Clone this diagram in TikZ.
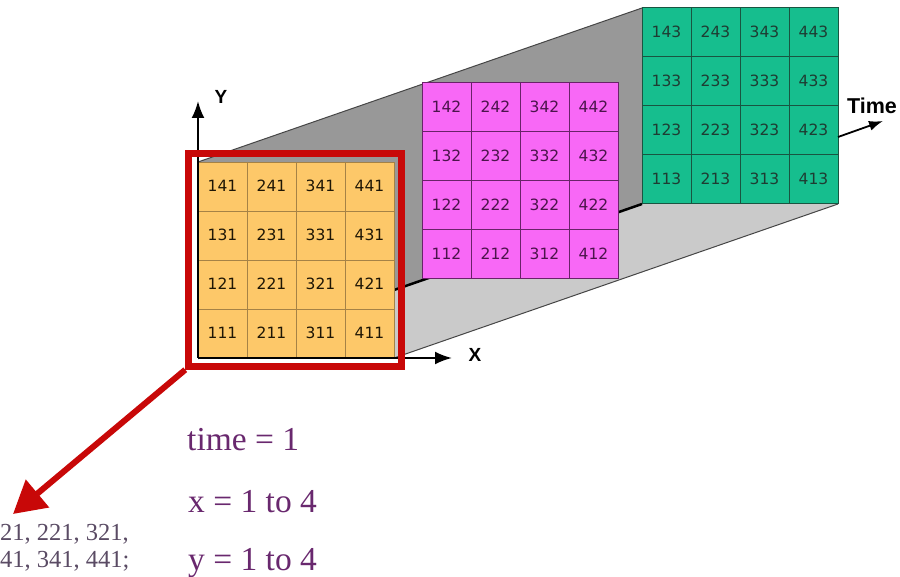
\documentclass[tikz,border=0pt]{standalone}
\usepackage{fontspec}
\setmainfont{Liberation Serif}
\newfontfamily\numfont{DejaVu Sans}
\newfontfamily\axfont{Liberation Sans}
\usetikzlibrary{arrows.meta}
\definecolor{cellorange}{RGB}{253,200,105}
\definecolor{oborder}{RGB}{165,130,70}
\definecolor{otext}{RGB}{30,22,5}
\definecolor{cellmag}{RGB}{248,104,246}
\definecolor{mborder}{RGB}{105,35,105}
\definecolor{mtext}{RGB}{75,20,75}
\definecolor{cellgreen}{RGB}{22,190,142}
\definecolor{gborder}{RGB}{25,85,65}
\definecolor{gtext}{RGB}{30,60,50}
\definecolor{wallgray}{RGB}{152,152,152}
\definecolor{floorgray}{RGB}{202,202,202}
\definecolor{edgegray}{RGB}{70,70,70}
\definecolor{framered}{RGB}{200,8,8}
\definecolor{labpurple}{RGB}{105,40,110}
\definecolor{listgray}{RGB}{90,75,100}
\tikzset{
  cellbase/.style={minimum size=49pt, inner sep=0pt, line width=1pt,
    text height=11pt, text depth=0pt,
    font=\numfont\fontsize{15.5}{15.5}\selectfont},
  ocell/.style={cellbase, draw=oborder, line width=0.7pt, fill=cellorange, text=otext},
  mcell/.style={cellbase, draw=mborder, fill=cellmag, text=mtext},
  gcell/.style={cellbase, draw=gborder, fill=cellgreen, text=gtext},
  axisline/.style={line width=2.2pt, -{Latex[length=17pt,width=13pt]}},
  axlabel/.style={font=\axfont\bfseries\fontsize{19}{19}\selectfont, inner sep=0pt},
  infotext/.style={font=\fontsize{33.5}{33.5}\selectfont, text=labpurple, anchor=base west, inner sep=0pt},
  listtext/.style={font=\fontsize{24.5}{24.5}\selectfont, text=listgray, anchor=base west, inner sep=0pt}
}
\newcommand\cellgrid[5]{%
  \foreach \i in {1,...,4}{\foreach \j in {1,...,4}{
    \node[#5] (#1\i\j) at ({#2+(\i-0.5)*49},{#3+(4-\j+0.5)*49}) {\i\j#4};
  }}}
\begin{document}
\begin{tikzpicture}[x=1pt,y=-1pt]
\useasboundingbox (0,0) rectangle (900,577);
% corners of the prism
\coordinate (oTL) at (198,162);
\coordinate (oBL) at (198,358);
\coordinate (oBR) at (394,358);
\coordinate (gTL) at (642,8);
\coordinate (gBL) at (642,204);
\coordinate (gBR) at (838,204);
% wall and floor
\fill[wallgray] (oTL) -- (gTL) -- (gBL) -- (oBL) -- cycle;
\fill[floorgray] (oBL) -- (oBR) -- (gBR) -- (gBL) -- cycle;
\draw[edgegray, line width=1pt] (oTL) -- (gTL);
\draw[edgegray, line width=1pt] (oBR) -- (gBR);
\draw[black, line width=2.5pt] (oBL) -- (gBL);
% grids
\cellgrid{g}{642}{8}{3}{gcell}
\cellgrid{m}{422}{83}{2}{mcell}
\cellgrid{o}{198}{162}{1}{ocell}
% axes
\coordinate (ytip) at (198,101);
\coordinate (xtip) at (452,358);
\draw[axisline] (oBL) -- (ytip);
\draw[axisline] (oBL) -- (xtip);
\node[axlabel] (ylab) at (221,97) {Y};
\node[axlabel] (xlab) at (475,355) {X};
% time arrow
\coordinate (tstart) at (838,137);
\coordinate (ttip) at (883,121);
\draw[line width=1.8pt, -{Latex[length=14pt,width=10pt]}] (tstart) -- (ttip);
\node[font=\axfont\bfseries\fontsize{21.5}{21.5}\selectfont, inner sep=0pt] (tlab) at (872,106) {Time};
% red frame and arrow
\node[draw=framered, line width=6.5pt, minimum width=213pt, minimum height=213pt, inner sep=0pt] (frame) at (295,260) {};
\coordinate (rtip) at (13,514);
\draw[framered, line width=6pt, -{Triangle[length=32pt,width=35pt]}] (frame.south west) -- (rtip);
% texts
\node[infotext] (t1) at (187,450) {time = 1};
\node[infotext] (t2) at (188,512) {x = 1 to 4};
\node[infotext] (t3) at (188,570) {y = 1 to 4};
\node[listtext] (l1) at (0,540) {21, 221, 321,};
\node[listtext] (l2) at (0,567) {41, 341, 441;};
\end{tikzpicture}
\end{document}
